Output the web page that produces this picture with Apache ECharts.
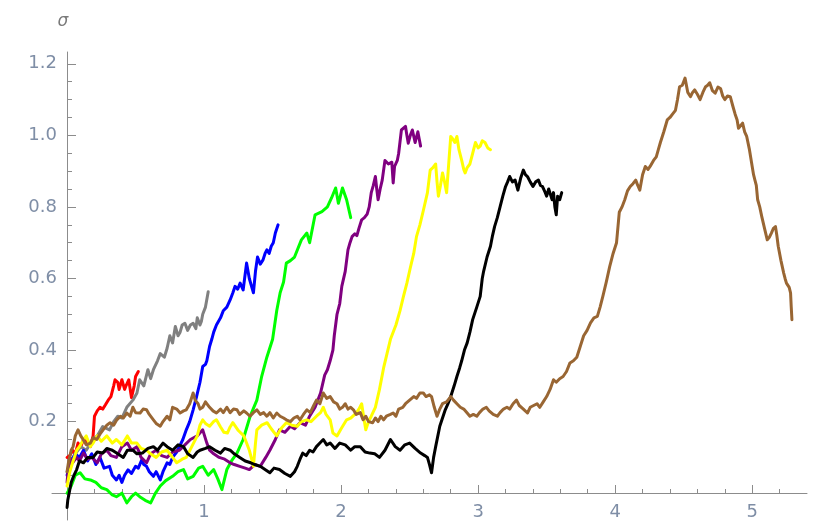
<!DOCTYPE html>
<html>
<head>
<meta charset="utf-8">
<script src="https://cdn.jsdelivr.net/npm/echarts@6/dist/echarts.min.js"></script>
<style>
html,body{margin:0;padding:0;background:#fff;}
#c{width:820px;height:523px;}
</style>
</head>
<body>
<div id="c"></div>
<script>
// ---- tick labels ----
const xMajorTicks = [1, 2, 3, 4, 5];
const xMinorTicks = [0.2,0.4,0.6,0.8,1.2,1.4,1.6,1.8,2.2,2.4,2.6,2.8,3.2,3.4,3.6,3.8,4.2,4.4,4.6,4.8,5.2];
const yMajorTicks = [0.2, 0.4, 0.6, 0.8, 1.0, 1.2];
const yMinorTicks = [0.05,0.1,0.15,0.25,0.3,0.35,0.45,0.5,0.55,0.65,0.7,0.75,0.85,0.9,0.95,1.05,1.1,1.15];
const yAxisTitle = 'σ';

// ---- series values: [x, sigma] ----
const redSeries = [[0,0.10],[0.02,0.105],[0.04,0.12],[0.06,0.11],[0.08,0.14],[0.10,0.13],[0.12,0.15],[0.15,0.14],[0.17,0.13],[0.19,0.16],[0.20,0.215],[0.22,0.23],[0.24,0.24],[0.26,0.235],[0.28,0.247],[0.30,0.26],[0.32,0.27],[0.34,0.30],[0.35,0.317],[0.37,0.31],[0.38,0.29],[0.40,0.317],[0.42,0.29],[0.43,0.30],[0.45,0.317],[0.47,0.267],[0.49,0.30],[0.50,0.326],[0.52,0.34]];

const graySeries = [[0,0.06],[0.03,0.09],[0.06,0.11],[0.1,0.13],[0.14,0.12],[0.19,0.15],[0.22,0.16],[0.26,0.186],[0.31,0.177],[0.34,0.2],[0.37,0.215],[0.40,0.21],[0.436,0.24],[0.48,0.26],[0.51,0.28],[0.53,0.317],[0.56,0.30],[0.59,0.345],[0.61,0.32],[0.63,0.345],[0.66,0.37],[0.68,0.39],[0.71,0.38],[0.73,0.405],[0.75,0.44],[0.77,0.42],[0.79,0.466],[0.81,0.44],[0.825,0.45],[0.84,0.47],[0.86,0.475],[0.88,0.455],[0.90,0.47],[0.92,0.475],[0.94,0.46],[0.95,0.49],[0.97,0.47],[0.98,0.48],[0.99,0.50],[1.01,0.52],[1.03,0.563]];

const blueSeries = [[0,0.05],[0.03,0.09],[0.06,0.11],[0.09,0.10],[0.12,0.12],[0.15,0.09],[0.18,0.11],[0.21,0.08],[0.24,0.10],[0.27,0.07],[0.31,0.075],[0.33,0.05],[0.36,0.037],[0.38,0.05],[0.40,0.03],[0.42,0.05],[0.445,0.065],[0.47,0.055],[0.50,0.075],[0.52,0.07],[0.545,0.093],[0.56,0.08],[0.58,0.075],[0.60,0.06],[0.63,0.047],[0.65,0.06],[0.68,0.037],[0.70,0.06],[0.73,0.085],[0.75,0.08],[0.77,0.10],[0.80,0.115],[0.82,0.13],[0.845,0.15],[0.87,0.177],[0.895,0.20],[0.92,0.233],[0.945,0.27],[0.97,0.31],[0.99,0.354],[1.01,0.36],[1.02,0.37],[1.04,0.41],[1.056,0.43],[1.07,0.45],[1.09,0.47],[1.12,0.49],[1.14,0.51],[1.166,0.52],[1.19,0.54],[1.21,0.56],[1.226,0.578],[1.245,0.57],[1.263,0.587],[1.285,0.568],[1.31,0.643],[1.33,0.60],[1.36,0.56],[1.375,0.62],[1.39,0.66],[1.41,0.64],[1.43,0.652],[1.445,0.67],[1.458,0.68],[1.475,0.67],[1.49,0.69],[1.505,0.70],[1.52,0.727],[1.54,0.75]];

const greenSeries = [[0,0.0],[0.03,0.02],[0.06,0.05],[0.095,0.057],[0.13,0.04],[0.17,0.037],[0.21,0.03],[0.25,0.015],[0.29,0.01],[0.33,-0.005],[0.36,-0.01],[0.40,0.0],[0.436,-0.027],[0.47,-0.01],[0.5,0.0],[0.53,-0.01],[0.57,-0.02],[0.61,-0.027],[0.645,0.0],[0.68,0.02],[0.72,0.035],[0.77,0.047],[0.81,0.06],[0.85,0.066],[0.88,0.04],[0.92,0.047],[0.96,0.07],[0.99,0.075],[1.03,0.05],[1.07,0.066],[1.10,0.04],[1.13,0.01],[1.166,0.066],[1.2,0.09],[1.24,0.112],[1.285,0.15],[1.336,0.215],[1.385,0.26],[1.42,0.326],[1.458,0.38],[1.50,0.43],[1.53,0.51],[1.555,0.56],[1.58,0.59],[1.60,0.643],[1.63,0.65],[1.66,0.66],[1.71,0.708],[1.75,0.727],[1.77,0.70],[1.81,0.778],[1.86,0.787],[1.90,0.80],[1.93,0.825],[1.96,0.853],[1.98,0.81],[2.01,0.853],[2.04,0.82],[2.07,0.77]];

const purpleSeries = [[0,0.03],[0.01,0.075],[0.03,0.095],[0.04,0.085],[0.07,0.10],[0.09,0.09],[0.12,0.112],[0.15,0.095],[0.18,0.10],[0.22,0.085],[0.25,0.11],[0.29,0.12],[0.32,0.105],[0.36,0.10],[0.40,0.13],[0.44,0.14],[0.47,0.12],[0.51,0.13],[0.54,0.10],[0.58,0.085],[0.61,0.11],[0.65,0.12],[0.69,0.105],[0.73,0.10],[0.77,0.115],[0.82,0.12],[0.86,0.135],[0.90,0.15],[0.95,0.16],[0.99,0.177],[1.02,0.14],[1.04,0.12],[1.07,0.11],[1.11,0.10],[1.15,0.095],[1.19,0.085],[1.22,0.08],[1.26,0.075],[1.30,0.07],[1.33,0.066],[1.37,0.08],[1.41,0.075],[1.45,0.10],[1.48,0.12],[1.52,0.15],[1.55,0.177],[1.59,0.17],[1.63,0.187],[1.66,0.18],[1.70,0.197],[1.74,0.19],[1.77,0.215],[1.81,0.24],[1.85,0.28],[1.88,0.33],[1.90,0.345],[1.92,0.37],[1.94,0.40],[1.95,0.44],[1.97,0.50],[1.99,0.53],[2.005,0.578],[2.03,0.62],[2.05,0.68],[2.065,0.70],[2.08,0.717],[2.10,0.725],[2.115,0.72],[2.13,0.74],[2.15,0.764],[2.17,0.77],[2.19,0.78],[2.205,0.80],[2.22,0.84],[2.235,0.86],[2.25,0.885],[2.26,0.85],[2.27,0.82],[2.285,0.85],[2.30,0.875],[2.32,0.93],[2.345,0.92],[2.37,0.925],[2.38,0.867],[2.39,0.913],[2.41,0.93],[2.42,0.95],[2.44,1.015],[2.455,1.02],[2.47,1.025],[2.48,1.0],[2.49,0.978],[2.505,1.0],[2.52,1.015],[2.54,0.98],[2.55,0.995],[2.56,1.01],[2.57,0.99],[2.58,0.97]];

const yellowSeries = [[0,0.02],[0.02,0.06],[0.04,0.085],[0.07,0.12],[0.09,0.13],[0.12,0.15],[0.14,0.16],[0.17,0.13],[0.19,0.14],[0.22,0.16],[0.25,0.145],[0.29,0.16],[0.31,0.15],[0.33,0.14],[0.36,0.15],[0.40,0.135],[0.44,0.16],[0.47,0.14],[0.51,0.14],[0.54,0.125],[0.58,0.12],[0.61,0.11],[0.65,0.10],[0.69,0.115],[0.73,0.12],[0.77,0.10],[0.80,0.085],[0.84,0.095],[0.87,0.10],[0.91,0.13],[0.95,0.16],[0.97,0.19],[0.99,0.205],[1.01,0.195],[1.04,0.187],[1.07,0.20],[1.09,0.205],[1.12,0.185],[1.145,0.17],[1.17,0.168],[1.19,0.185],[1.21,0.197],[1.25,0.175],[1.29,0.16],[1.31,0.14],[1.33,0.12],[1.35,0.09],[1.36,0.075],[1.375,0.14],[1.385,0.177],[1.42,0.19],[1.46,0.197],[1.49,0.18],[1.53,0.16],[1.56,0.18],[1.60,0.197],[1.64,0.19],[1.68,0.187],[1.71,0.2],[1.75,0.205],[1.78,0.2],[1.82,0.215],[1.85,0.225],[1.87,0.24],[1.89,0.22],[1.92,0.205],[1.94,0.168],[1.97,0.16],[2.00,0.18],[2.04,0.205],[2.07,0.21],[2.11,0.224],[2.13,0.235],[2.15,0.25],[2.17,0.2],[2.18,0.177],[2.20,0.2],[2.22,0.215],[2.25,0.24],[2.28,0.29],[2.31,0.35],[2.335,0.39],[2.36,0.43],[2.40,0.47],[2.43,0.51],[2.455,0.55],[2.48,0.587],[2.505,0.63],[2.53,0.67],[2.55,0.717],[2.575,0.75],[2.60,0.79],[2.63,0.84],[2.65,0.903],[2.67,0.91],[2.69,0.92],[2.70,0.87],[2.71,0.83],[2.725,0.86],[2.74,0.895],[2.755,0.87],[2.77,0.84],[2.785,0.92],[2.80,0.997],[2.815,0.99],[2.83,0.98],[2.845,0.997],[2.86,0.96],[2.88,0.93],[2.895,0.905],[2.905,0.895],[2.92,0.91],[2.94,0.92],[2.96,0.95],[2.98,0.98],[3.0,0.965],[3.015,0.97],[3.03,0.985],[3.05,0.98],[3.07,0.965],[3.09,0.96]];

const blackSeries = [[0,-0.04],[0.005,-0.02],[0.015,0.0],[0.03,0.03],[0.05,0.05],[0.07,0.066],[0.09,0.09],[0.12,0.085],[0.15,0.10],[0.19,0.10],[0.22,0.115],[0.26,0.112],[0.29,0.125],[0.33,0.12],[0.37,0.11],[0.41,0.10],[0.44,0.12],[0.48,0.12],[0.51,0.11],[0.55,0.112],[0.59,0.125],[0.63,0.13],[0.66,0.12],[0.70,0.14],[0.73,0.13],[0.77,0.12],[0.81,0.135],[0.85,0.13],[0.88,0.11],[0.92,0.10],[0.95,0.115],[0.97,0.12],[1.01,0.125],[1.04,0.13],[1.08,0.12],[1.12,0.112],[1.15,0.125],[1.19,0.12],[1.22,0.11],[1.26,0.10],[1.30,0.09],[1.34,0.085],[1.37,0.08],[1.41,0.075],[1.45,0.065],[1.48,0.057],[1.51,0.07],[1.55,0.066],[1.59,0.055],[1.63,0.047],[1.66,0.06],[1.68,0.075],[1.70,0.095],[1.72,0.112],[1.745,0.105],[1.77,0.12],[1.795,0.115],[1.82,0.13],[1.845,0.14],[1.87,0.15],[1.895,0.135],[1.92,0.14],[1.955,0.125],[1.99,0.14],[2.03,0.135],[2.07,0.12],[2.10,0.13],[2.14,0.13],[2.175,0.115],[2.21,0.112],[2.245,0.11],[2.28,0.10],[2.32,0.12],[2.36,0.15],[2.395,0.13],[2.43,0.12],[2.465,0.135],[2.50,0.14],[2.54,0.125],[2.58,0.112],[2.61,0.105],[2.63,0.10],[2.645,0.08],[2.66,0.057],[2.675,0.10],[2.69,0.13],[2.72,0.187],[2.76,0.233],[2.78,0.25],[2.80,0.27],[2.825,0.30],[2.845,0.326],[2.865,0.35],[2.88,0.37],[2.90,0.40],[2.92,0.42],[2.94,0.45],[2.96,0.485],[2.99,0.52],[3.015,0.55],[3.03,0.60],[3.04,0.62],[3.065,0.66],[3.09,0.69],[3.105,0.72],[3.12,0.745],[3.14,0.77],[3.16,0.80],[3.18,0.83],[3.20,0.857],[3.215,0.87],[3.23,0.885],[3.25,0.87],[3.27,0.875],[3.29,0.847],[3.31,0.88],[3.33,0.903],[3.345,0.89],[3.36,0.885],[3.38,0.87],[3.40,0.857],[3.42,0.87],[3.44,0.875],[3.455,0.86],[3.47,0.857],[3.49,0.84],[3.50,0.83],[3.515,0.85],[3.525,0.847],[3.54,0.82],[3.55,0.84],[3.56,0.80],[3.57,0.778],[3.58,0.83],[3.595,0.82],[3.61,0.84]];

const brownSeries = [[0,0.06],[0.01,0.085],[0.03,0.12],[0.044,0.13],[0.06,0.16],[0.08,0.177],[0.10,0.16],[0.117,0.15],[0.14,0.135],[0.17,0.14],[0.19,0.155],[0.217,0.15],[0.24,0.165],[0.263,0.177],[0.29,0.19],[0.314,0.197],[0.34,0.19],[0.363,0.205],[0.39,0.215],[0.41,0.21],[0.436,0.224],[0.46,0.215],[0.48,0.24],[0.50,0.225],[0.533,0.224],[0.555,0.235],[0.58,0.233],[0.60,0.22],[0.63,0.205],[0.65,0.195],[0.68,0.187],[0.70,0.20],[0.73,0.215],[0.75,0.205],[0.77,0.24],[0.80,0.235],[0.825,0.224],[0.85,0.23],[0.87,0.233],[0.895,0.25],[0.92,0.28],[0.935,0.26],[0.956,0.25],[0.97,0.235],[0.99,0.24],[1.01,0.255],[1.04,0.24],[1.065,0.23],[1.09,0.224],[1.12,0.235],[1.14,0.225],[1.166,0.24],[1.19,0.225],[1.215,0.235],[1.24,0.233],[1.26,0.22],[1.29,0.23],[1.31,0.224],[1.335,0.215],[1.36,0.225],[1.385,0.233],[1.41,0.22],[1.435,0.225],[1.458,0.215],[1.48,0.225],[1.505,0.21],[1.53,0.224],[1.555,0.215],[1.58,0.21],[1.60,0.205],[1.63,0.2],[1.655,0.21],[1.68,0.215],[1.70,0.205],[1.725,0.22],[1.75,0.233],[1.775,0.225],[1.80,0.245],[1.82,0.26],[1.845,0.25],[1.87,0.28],[1.895,0.265],[1.92,0.27],[1.945,0.255],[1.97,0.25],[1.99,0.235],[2.01,0.24],[2.03,0.25],[2.05,0.235],[2.07,0.24],[2.09,0.233],[2.11,0.22],[2.14,0.225],[2.16,0.205],[2.18,0.215],[2.20,0.2],[2.23,0.197],[2.25,0.21],[2.27,0.2],[2.29,0.215],[2.31,0.205],[2.33,0.215],[2.36,0.22],[2.38,0.224],[2.40,0.215],[2.42,0.235],[2.45,0.24],[2.47,0.25],[2.50,0.26],[2.53,0.27],[2.55,0.265],[2.575,0.28],[2.60,0.28],[2.62,0.27],[2.645,0.275],[2.66,0.27],[2.68,0.24],[2.70,0.215],[2.72,0.235],[2.74,0.25],[2.77,0.255],[2.80,0.27],[2.82,0.26],[2.845,0.25],[2.87,0.24],[2.895,0.235],[2.92,0.224],[2.94,0.215],[2.965,0.22],[2.99,0.215],[3.01,0.225],[3.035,0.235],[3.06,0.24],[3.08,0.23],[3.11,0.22],[3.14,0.215],[3.16,0.225],[3.185,0.235],[3.21,0.24],[3.23,0.235],[3.255,0.25],[3.28,0.26],[3.30,0.245],[3.33,0.235],[3.36,0.224],[3.38,0.24],[3.405,0.245],[3.43,0.25],[3.45,0.24],[3.475,0.255],[3.50,0.27],[3.525,0.29],[3.55,0.317],[3.57,0.31],[3.595,0.32],[3.62,0.326],[3.645,0.34],[3.67,0.364],[3.695,0.37],[3.72,0.38],[3.745,0.41],[3.77,0.44],[3.795,0.455],[3.82,0.476],[3.845,0.49],[3.87,0.494],[3.89,0.52],[3.91,0.55],[3.935,0.59],[3.96,0.633],[3.985,0.67],[4.01,0.70],[4.03,0.785],[4.05,0.80],[4.07,0.82],[4.09,0.845],[4.11,0.857],[4.13,0.865],[4.15,0.875],[4.165,0.86],[4.18,0.847],[4.20,0.89],[4.22,0.913],[4.24,0.905],[4.255,0.913],[4.28,0.93],[4.30,0.94],[4.315,0.96],[4.33,0.98],[4.355,1.01],[4.38,1.043],[4.40,1.05],[4.42,1.06],[4.44,1.07],[4.455,1.10],[4.47,1.136],[4.49,1.14],[4.51,1.16],[4.53,1.12],[4.55,1.108],[4.565,1.12],[4.58,1.127],[4.60,1.115],[4.62,1.10],[4.64,1.12],[4.66,1.136],[4.675,1.14],[4.69,1.147],[4.71,1.125],[4.73,1.118],[4.75,1.135],[4.77,1.13],[4.785,1.11],[4.80,1.10],[4.82,1.11],[4.84,1.108],[4.86,1.08],[4.875,1.06],[4.89,1.043],[4.90,1.02],[4.91,1.015],[4.93,1.034],[4.945,1.01],[4.96,0.997],[4.98,0.96],[5.00,0.913],[5.01,0.89],[5.02,0.875],[5.03,0.86],[5.04,0.82],[5.055,0.80],[5.07,0.773],[5.09,0.74],[5.11,0.708],[5.125,0.715],[5.14,0.727],[5.155,0.74],[5.17,0.745],[5.18,0.72],[5.19,0.69],[5.21,0.65],[5.23,0.615],[5.24,0.60],[5.25,0.587],[5.27,0.575],[5.28,0.56],[5.285,0.52],[5.29,0.485]];

const seriesList = [
  {name: 'red', color: '#ff0000', data: redSeries},
  {name: 'gray', color: '#808080', data: graySeries},
  {name: 'blue', color: '#0000ff', data: blueSeries},
  {name: 'green', color: '#00ff00', data: greenSeries},
  {name: 'purple', color: '#800080', data: purpleSeries},
  {name: 'yellow', color: '#ffff00', data: yellowSeries},
  {name: 'black', color: '#000000', data: blackSeries},
  {name: 'brown', color: '#996633', data: brownSeries}
];

const axisColor = '#8c8c8c';
const labelColor = '#7f8ea6';
const fontFamily = 'DejaVu Sans';
const X_MIN = -0.11, X_MAX = 5.40, Y_MIN = -0.075, Y_MAX = 1.233;

// grid 0: full axis lines (crossing at the origin, extending slightly past it)
// grid 1: same plot area starting at the origin, for major ticks + labels
// grid 2: same as grid 1, for minor ticks
const outerGrid = {left: 52, right: 13, top: 52, bottom: 3};
const innerGrid = {left: 67, right: 13, top: 52, bottom: 30};

function noLine() { return {show: false}; }

const chart = echarts.init(document.getElementById('c'), null, {renderer: 'canvas'});
chart.setOption({
  animation: false,
  backgroundColor: '#ffffff',
  grid: [
    Object.assign({containLabel: false, outerBoundsMode: 'none'}, outerGrid),
    Object.assign({containLabel: false, outerBoundsMode: 'none'}, innerGrid),
    Object.assign({containLabel: false, outerBoundsMode: 'none'}, innerGrid)
  ],
  xAxis: [
    {
      gridIndex: 0, type: 'value', min: X_MIN, max: X_MAX,
      axisLine: {show: true, onZero: true, lineStyle: {color: axisColor, width: 1}},
      axisTick: {show: false}, axisLabel: {show: false}, splitLine: {show: false}
    },
    {
      gridIndex: 1, type: 'value', min: 0, max: X_MAX, position: 'bottom',
      axisLine: {show: false, onZero: false},
      axisTick: {show: true, inside: true, length: 8, customValues: xMajorTicks, lineStyle: {color: axisColor, width: 1}},
      axisLabel: {show: true, customValues: xMajorTicks, margin: 10, color: labelColor, fontSize: 18, fontFamily: fontFamily},
      splitLine: {show: false}
    },
    {
      gridIndex: 2, type: 'value', min: 0, max: X_MAX, position: 'bottom',
      axisLine: {show: false, onZero: false},
      axisTick: {show: true, inside: true, length: 4, customValues: xMinorTicks, lineStyle: {color: axisColor, width: 1}},
      axisLabel: {show: false}, splitLine: {show: false}
    }
  ],
  yAxis: [
    {
      gridIndex: 0, type: 'value', min: Y_MIN, max: Y_MAX,
      axisLine: {show: true, onZero: true, lineStyle: {color: axisColor, width: 1}},
      axisTick: {show: false}, axisLabel: {show: false}, splitLine: {show: false}
    },
    {
      gridIndex: 1, type: 'value', min: 0, max: Y_MAX, position: 'left',
      name: yAxisTitle, nameLocation: 'end', nameGap: 22,
      nameTextStyle: {fontStyle: 'italic', fontSize: 17, color: '#7a7a7a', fontFamily: fontFamily, padding: [0, 8, 0, 0]},
      axisLine: {show: false, onZero: false},
      axisTick: {show: true, inside: true, length: 9, customValues: yMajorTicks, lineStyle: {color: axisColor, width: 1}},
      axisLabel: {show: true, customValues: yMajorTicks, margin: 10, color: labelColor, fontSize: 18, fontFamily: fontFamily,
        formatter: function (v) { return Number(v).toFixed(1); }},
      splitLine: {show: false}
    },
    {
      gridIndex: 2, type: 'value', min: 0, max: Y_MAX, position: 'left',
      axisLine: {show: false, onZero: false},
      axisTick: {show: true, inside: true, length: 5, customValues: yMinorTicks, lineStyle: {color: axisColor, width: 1}},
      axisLabel: {show: false}, splitLine: {show: false}
    }
  ],
  series: seriesList.map(function (s) {
    return {
      name: s.name, type: 'line', data: s.data, showSymbol: false, symbol: 'none',
      xAxisIndex: 0, yAxisIndex: 0, clip: false,
      lineStyle: {color: s.color, width: 3, cap: 'round', join: 'round'},
      itemStyle: {color: s.color}
    };
  })
});
</script>
</body>
</html>
